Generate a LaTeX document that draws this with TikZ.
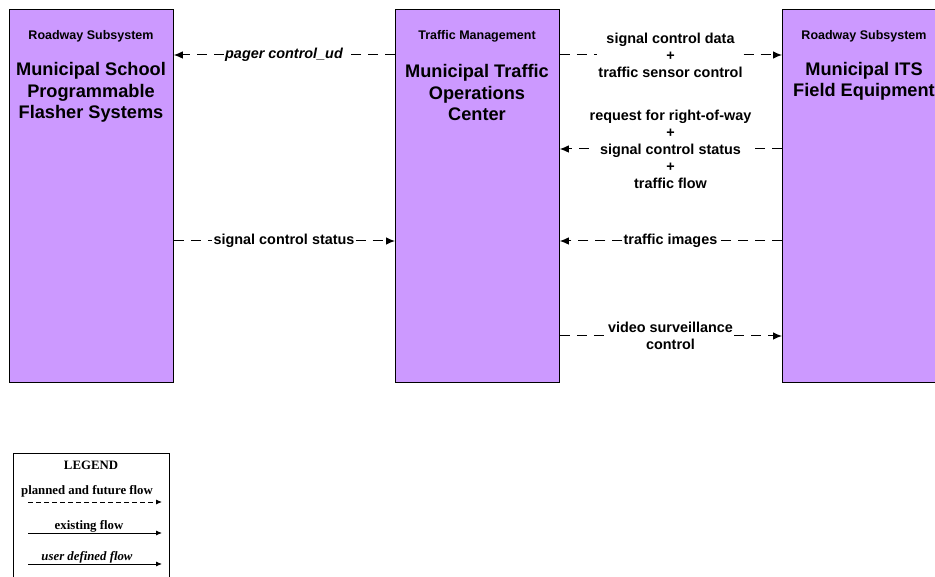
\documentclass[tikz,border=0pt]{standalone}
\usepackage{fontspec}
\setmainfont{Liberation Sans}
\newfontfamily\legendfont{Liberation Serif}
\usetikzlibrary{arrows.meta}

\definecolor{boxviolet}{RGB}{204,153,255}

\begin{document}
\begin{tikzpicture}
	[x=1pt, y=-1pt,
	subsys/.style={draw, line width=0.8pt, fill=boxviolet, anchor=north west,
		minimum width=164pt, minimum height=373pt, inner sep=0pt},
	kind/.style={font=\bfseries\fontsize{12.5}{15}\selectfont},
	title/.style={font=\bfseries\fontsize{18.2}{21.5}\selectfont, align=center},
	flowlabel/.style={font=\bfseries\fontsize{14.4}{17}\selectfont, align=center, inner sep=1pt},
	flow/.style={line width=1pt, dash pattern=on 10pt off 7pt},
	tip/.style={-{Latex[length=9pt,width=7.5pt]}},
	legendtext/.style={font=\legendfont\bfseries\fontsize{12.8}{14}\selectfont, anchor=base}]
	\useasboundingbox (0,0) rectangle (935,577);
	% subsystems
	\node (school) [subsys] at (9,9) {};
	\node (mtoc) [subsys] at (395,9) {};
	\node (its) [subsys] at (782,9) {};
	\node (schoolkind) [kind] at (91,36) {Roadway Subsystem};
	\node (schooltitle) [title] at (91,92.5) {Municipal School\\Programmable\\Flasher Systems};
	\node (mtockind) [kind] at (477,36) {Traffic Management};
	\node (mtoctitle) [title] at (477,92.5) {Municipal Traffic\\Operations\\Center};
	\node (itskind) [kind] at (864,36) {Roadway Subsystem};
	\node (itstitle) [title] at (864,81.5) {Municipal ITS\\Field Equipment};
	% flows
	\node (pager) [flowlabel, font=\bfseries\itshape\fontsize{14.4}{17}\selectfont] at (284,55) {pager control\_ud};
	\draw [flow] (mtoc.west |- pager) -- (pager);
	\draw [flow, tip] (pager) -- (school.east |- pager);
	\node (schoolstatus) [flowlabel] at (284,241) {signal control status};
	\draw [flow] (school.east |- schoolstatus) -- (schoolstatus);
	\draw [flow, tip] (schoolstatus) -- (mtoc.west |- schoolstatus);
	\node (sigdata) [flowlabel] at (670.5,55) {signal control data\\+\\traffic sensor control};
	\draw [flow] (mtoc.east |- sigdata) -- (sigdata);
	\draw [flow, tip] (sigdata) -- (its.west |- sigdata);
	\node (request) [flowlabel] at (670.5,149) {request for right-of-way\\+\\signal control status\\+\\traffic flow};
	\draw [flow] (its.west |- request) -- (request);
	\draw [flow, tip] (request) -- (mtoc.east |- request);
	\node (images) [flowlabel] at (670.5,241) {traffic images};
	\draw [flow] (its.west |- images) -- (images);
	\draw [flow, tip] (images) -- (mtoc.east |- images);
	\node (video) [flowlabel] at (670.5,336) {video surveillance\\control};
	\draw [flow] (mtoc.east |- video) -- (video);
	\draw [flow, tip] (video) -- (its.west |- video);
	% legend
	\node (legend) [draw, line width=0.8pt, anchor=north west, minimum width=156pt,
		minimum height=130pt, inner sep=0pt] at (13,453) {};
	\node (legendhead) [legendtext] at (91,469) {LEGEND};
	\node (planned) [legendtext] at (87,494) {planned and future flow};
	\node (existing) [legendtext] at (89,529) {existing flow};
	\node (userdef) [legendtext, font=\legendfont\bfseries\itshape\fontsize{12.8}{14}\selectfont] at (87,560) {user defined flow};
	\coordinate (plannedA) at (28,502);
	\coordinate (plannedB) at (162,502);
	\coordinate (existingA) at (28,533);
	\coordinate (existingB) at (162,533);
	\coordinate (userdefA) at (28,564);
	\coordinate (userdefB) at (162,564);
	\draw [line width=0.8pt, dash pattern=on 4.5pt off 3.5pt, -{Latex[length=6pt,width=5pt]}] (plannedA) -- (plannedB);
	\draw [line width=0.8pt, -{Latex[length=6pt,width=5pt]}] (existingA) -- (existingB);
	\draw [line width=0.8pt, -{Latex[length=6pt,width=5pt]}] (userdefA) -- (userdefB);
\end{tikzpicture}
\end{document}
